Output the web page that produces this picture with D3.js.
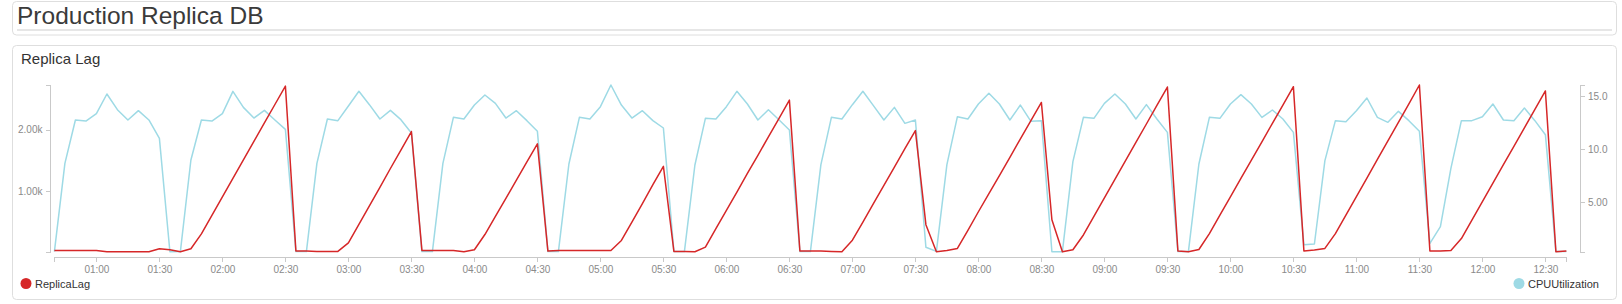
<!DOCTYPE html>
<html>
<head>
<meta charset="utf-8">
<script src="https://cdn.jsdelivr.net/npm/d3@7"></script>
<style>
  body { margin: 0; background: #fff; font-family: "Liberation Sans", Arial, sans-serif; }
  .axis path, .axis line { stroke: #c9c9c9; shape-rendering: crispEdges; }
  .axis text { fill: #8a8a8a; font-size: 10px; font-family: "Liberation Sans", Arial, sans-serif; }
</style>
</head>
<body>
<svg id="chart"></svg>
<script>
// Series sampled every 5 minutes starting 00:40
const START_TIME = "00:40";
const STEP_MINUTES = 5;

// CPU utilization (left axis)
const cpuUtilization = [
  12, 1452, 2160, 2143, 2263, 2584, 2328, 2160, 2312, 2160, 1860, 10, 14,
  1507, 2160, 2143, 2263, 2628, 2366, 2192, 2317, 2160, 2007, 12, 12,
  1452, 2176, 2149, 2388, 2628, 2410, 2176, 2317, 2165, 1948, 12, 12,
  1452, 2203, 2176, 2404, 2568, 2432, 2192, 2312, 2149, 1975, 12, 12,
  1442, 2203, 2176, 2377, 2731, 2404, 2192, 2312, 2149, 2029, 12, 12,
  1425, 2187, 2176, 2377, 2628, 2421, 2160, 2328, 2165, 1996, 12, 12,
  1431, 2203, 2176, 2410, 2628, 2394, 2160, 2366, 2105, 2160, 82, 15,
  1431, 2214, 2176, 2421, 2595, 2421, 2160, 2404, 2138, 2149, 10, 10,
  1480, 2203, 2187, 2432, 2584, 2421, 2176, 2410, 2176, 1958, 12, 12,
  1442, 2203, 2187, 2421, 2573, 2421, 2203, 2323, 2176, 1958, 125, 136,
  1496, 2149, 2132, 2312, 2519, 2203, 2122, 2301, 2149, 1975, 147, 419,
  1371, 2149, 2149, 2214, 2421, 2160, 2149, 2356, 2149, 1920, 12, 12
];

// Replica lag (right axis)
const replicaLag = [
  0.42, 0.42, 0.42, 0.42, 0.42, 0.30, 0.30, 0.30, 0.30, 0.30, 0.58, 0.48, 0.30,
  0.58, 1.98, 3.72, 5.47, 7.21, 8.96, 10.70, 12.45, 14.19, 15.93, 0.36, 0.36,
  0.33, 0.33, 0.33, 1.14, 2.88, 4.63, 6.37, 8.15, 9.89, 11.64, 0.42, 0.42,
  0.42, 0.42, 0.30, 0.48, 1.92, 3.63, 5.34, 7.06, 8.77, 10.48, 0.36, 0.42,
  0.42, 0.42, 0.42, 0.42, 0.42, 1.36, 3.10, 4.84, 6.62, 8.36, 0.33, 0.33,
  0.30, 0.73, 2.48, 4.19, 5.93, 7.68, 9.39, 11.14, 12.85, 14.60, 0.36, 0.36,
  0.36, 0.33, 0.30, 1.39, 3.10, 4.84, 6.56, 8.27, 10.02, 11.73, 2.85, 0.30,
  0.42, 0.61, 2.32, 4.07, 5.78, 7.49, 9.21, 10.95, 12.66, 14.38, 3.32, 0.30,
  0.48, 1.88, 3.63, 5.37, 7.12, 8.86, 10.61, 12.35, 14.10, 15.84, 0.36, 0.30,
  0.51, 2.01, 3.75, 5.47, 7.21, 8.93, 10.67, 12.41, 14.13, 15.87, 0.36, 0.45,
  0.61, 2.01, 3.75, 5.50, 7.24, 9.02, 10.76, 12.51, 14.25, 16.03, 0.36, 0.36,
  0.42, 1.54, 3.29, 5.03, 6.78, 8.52, 10.23, 11.98, 13.72, 15.47, 0.30, 0.36
];

const xTickLabels = [
  "01:00", "01:30", "02:00", "02:30", "03:00", "03:30", "04:00", "04:30",
  "05:00", "05:30", "06:00", "06:30", "07:00", "07:30", "08:00", "08:30",
  "09:00", "09:30", "10:00", "10:30", "11:00", "11:30", "12:00", "12:30"
];

const legendNames = ["ReplicaLag", "CPUUtilization"];
const pageTitle = "Production Replica DB";
const panelTitle = "Replica Lag";

const COLORS = { lag: "#d62728", cpu: "#9edae5" };

const W = 1622, H = 304;
const plot = { left: 54.4, right: 1566.4, top: 85, bottom: 251.7 };

const parseTime = d3.timeParse("%H:%M");
const t0 = parseTime(START_TIME);
const times = cpuUtilization.map((_, i) => d3.timeMinute.offset(t0, i * STEP_MINUTES));

const svg = d3.select("#chart").attr("width", W).attr("height", H);

// panels
svg.append("rect")
  .attr("x", 12.5).attr("y", 1.5).attr("width", 1604).attr("height", 33.5)
  .attr("rx", 4).attr("fill", "#fff").attr("stroke", "#dedede");
svg.append("line")
  .attr("x1", 17).attr("x2", 1612).attr("y1", 30).attr("y2", 30)
  .attr("stroke", "#e6e6e6").attr("stroke-width", 2);
svg.append("text")
  .attr("x", 17).attr("y", 23.5)
  .attr("font-size", 24.5).attr("fill", "#3a3a3a")
  .text(pageTitle);

svg.append("rect")
  .attr("x", 12.5).attr("y", 45.5).attr("width", 1604).attr("height", 254)
  .attr("rx", 4).attr("fill", "#fff").attr("stroke", "#dedede");
svg.append("text")
  .attr("x", 21).attr("y", 64)
  .attr("font-size", 15).attr("fill", "#333")
  .text(panelTitle);

// scales
const x = d3.scaleTime()
  .domain(d3.extent(times))
  .range([plot.left, plot.right]);

const yL = d3.scaleLinear()
  .domain(d3.extent(cpuUtilization))
  .range([plot.bottom, plot.top]);

const yR = d3.scaleLinear()
  .domain(d3.extent(replicaLag))
  .range([plot.bottom, plot.top]);

const fmt = d3.format(".3s");

// axes
svg.append("g")
  .attr("class", "axis")
  .attr("transform", "translate(0,257)")
  .call(d3.axisBottom(x)
    .tickValues(xTickLabels.map(parseTime))
    .tickFormat(d3.timeFormat("%H:%M"))
    .tickSize(5).tickSizeOuter(5).tickPadding(4));

svg.append("g")
  .attr("class", "axis")
  .attr("transform", "translate(49.5,0)")
  .call(d3.axisLeft(yL).ticks(3).tickFormat(fmt)
    .tickSize(4).tickSizeOuter(4).tickPadding(3));

svg.append("g")
  .attr("class", "axis")
  .attr("transform", "translate(1580,0)")
  .call(d3.axisRight(yR).ticks(3).tickFormat(fmt)
    .tickSize(5).tickSizeOuter(5).tickPadding(3));

// lines
const cpuLine = d3.line()
  .x((d, i) => x(times[i]))
  .y(d => yL(d));

const lagLine = d3.line()
  .x((d, i) => x(times[i]))
  .y(d => yR(d));

svg.append("path")
  .datum(cpuUtilization)
  .attr("fill", "none")
  .attr("stroke", COLORS.cpu)
  .attr("stroke-width", 1.5)
  .attr("stroke-linejoin", "round")
  .attr("d", cpuLine);

svg.append("path")
  .datum(replicaLag)
  .attr("fill", "none")
  .attr("stroke", COLORS.lag)
  .attr("stroke-width", 1.5)
  .attr("stroke-linejoin", "round")
  .attr("d", lagLine);

// legends
const legendPos = [{ cx: 26, tx: 35 }, { cx: 1519, tx: 1528 }];
const legendColors = [COLORS.lag, COLORS.cpu];
legendNames.forEach((name, i) => {
  const g = svg.append("g");
  g.append("circle")
    .attr("cx", legendPos[i].cx).attr("cy", 283.5).attr("r", 5.5)
    .attr("fill", legendColors[i]);
  g.append("text")
    .attr("x", legendPos[i].tx).attr("y", 287.5)
    .attr("font-size", 11).attr("fill", "#333")
    .text(name);
});
</script>
</body>
</html>
